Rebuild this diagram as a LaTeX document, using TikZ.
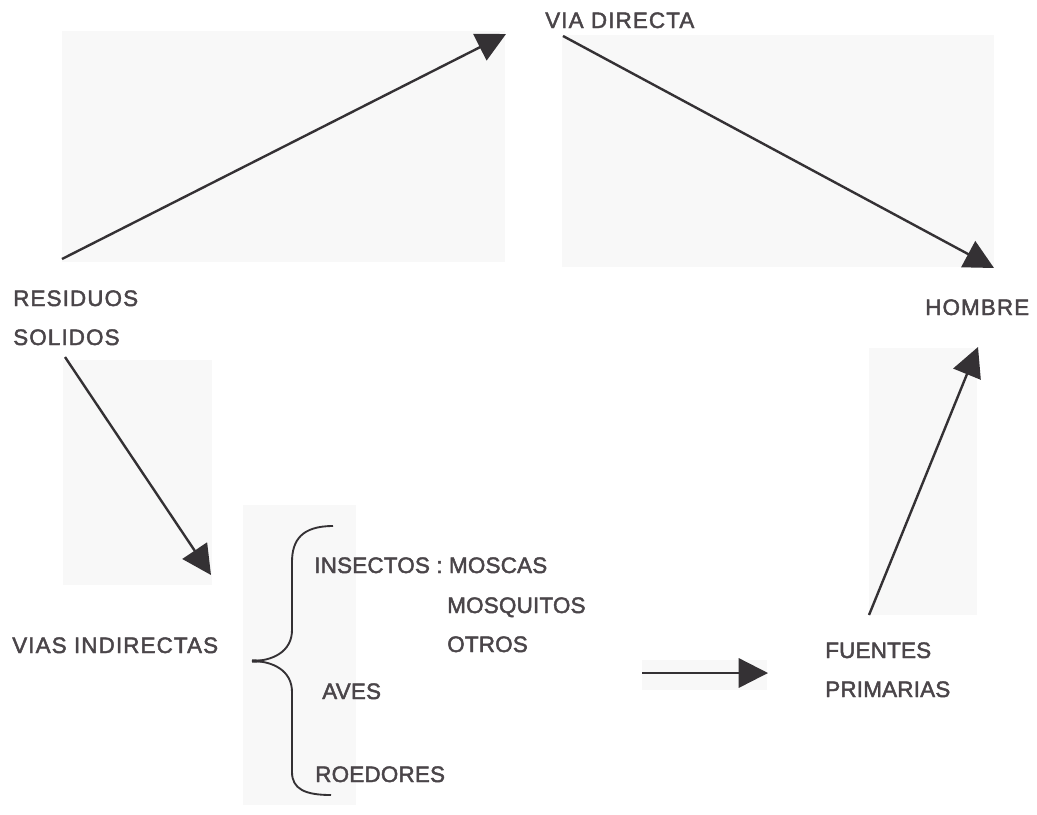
\documentclass[tikz,border=0pt]{standalone}
\usepackage{fontspec}
\setmainfont{Liberation Sans}
\newfontfamily\lblfont[LetterSpace=5,FakeBold=2]{Liberation Sans}
\newfontfamily\itemfont[LetterSpace=1,FakeBold=2]{Liberation Sans}
\usetikzlibrary{arrows.meta}
\definecolor{txtgray}{HTML}{4A4549}
\definecolor{arrgray}{HTML}{343134}
\definecolor{bggray}{HTML}{F8F8F8}
\tikzset{
  lbl/.style={anchor=base west, inner sep=0pt, text=txtgray, font=\lblfont\fontsize{16.8}{20}\selectfont},
  itm/.style={anchor=base west, inner sep=0pt, text=txtgray, font=\itemfont\fontsize{16.8}{20}\selectfont},
  bgbox/.style={fill=bggray, draw=none},
  conn/.style={draw=arrgray, line width=1.8pt, -{Triangle[length=22pt,width=22pt]}},
  bracepath/.style={draw=arrgray, line width=1.4pt}
}
\begin{document}
\begin{tikzpicture}[x=0.75pt,y=-0.75pt]
\useasboundingbox (0,0) rectangle (1037,814);
\fill[white] (0,0) rectangle (1037,814);
% faint background boxes
\path[bgbox] (62,31) rectangle (505,262);
\path[bgbox] (562,35) rectangle (994,267);
\path[bgbox] (63,360) rectangle (212,585);
\path[bgbox] (243,505) rectangle (356,805);
\path[bgbox] (642,660) rectangle (767,690);
\path[bgbox] (869,348) rectangle (977,615);
% labels
\node[lbl] (via) at (545,28) {VIA DIRECTA};
\node[lbl] (hombre) at (925,315) {HOMBRE};
\node[lbl] (res) at (13,306) {RESIDUOS};
\node[lbl] (sol) at (13,345) {SOLIDOS};
\node[lbl] (vias) at (12,653) {VIAS INDIRECTAS};
\node[itm] (insectos) at (314,573) {INSECTOS : MOSCAS};
\node[itm] (mosq) at (447,613) {MOSQUITOS};
\node[itm] (otros) at (447,652) {OTROS};
\node[itm] (aves) at (322,699) {AVES};
\node[itm] (roed) at (315,782) {ROEDORES};
\node[itm] (fuentes) at (825,658) {FUENTES};
\node[itm] (prim) at (825,697) {PRIMARIAS};
% connector end points
\coordinate (a1s) at (62,259);
\coordinate (a1e) at (506,34);
\coordinate (a2s) at (563,36);
\coordinate (a2e) at (994,268);
\coordinate (a3s) at (65,357);
\coordinate (a3e) at (211,575);
\coordinate (a4s) at (642,673);
\coordinate (a4e) at (768,673);
\coordinate (a5s) at (869,615);
\coordinate (a5e) at (978,347);
\draw[conn] (a1s) -- (a1e);
\draw[conn] (a2s) -- (a2e);
\draw[conn] (a3s) -- (a3e);
\draw[conn] (a4s) -- (a4e);
\draw[conn] (a5s) -- (a5e);
% brace
\coordinate (btop) at (333,526);
\coordinate (btip) at (252,661);
\coordinate (bbot) at (331,795);
\draw[bracepath] (btop) .. controls (302,526) and (292,540) .. (292,562) -- (292,630)
  .. controls (292,652) and (272,661) .. (btip)
  .. controls (272,661) and (292,670) .. (292,692) -- (292,772)
  .. controls (292,789) and (305,795) .. (bbot);
\fill[arrgray] (252,659.3) -- (264,659.8) -- (264,662.2) -- (252,662.7) -- cycle;
\end{tikzpicture}
\end{document}
